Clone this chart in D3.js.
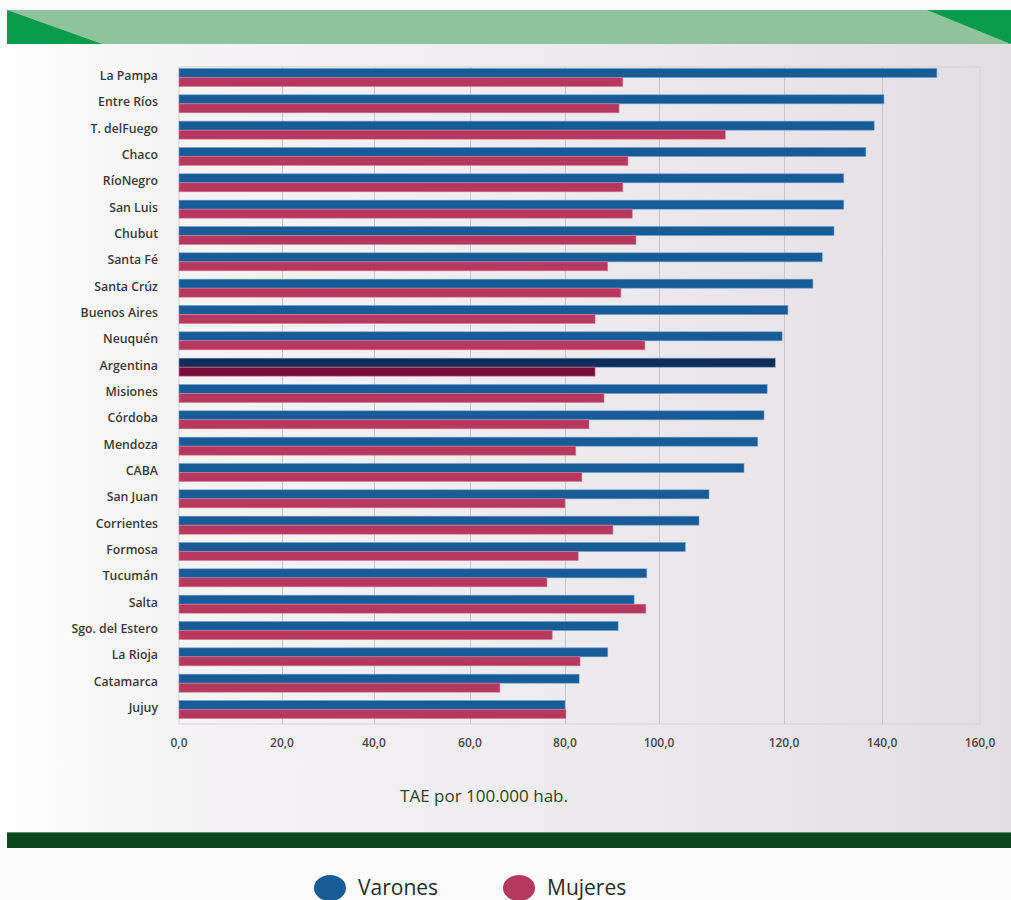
<!DOCTYPE html>
<html>
<head>
<meta charset="utf-8">
<script src="https://cdn.jsdelivr.net/npm/d3@7"></script>
<style>
	html, body { margin: 0; padding: 0; background: #fbfbfb; }
	svg { display: block; }
	.label { font-family: "Open Sans", sans-serif; font-size: 12.3px; font-weight: 600; fill: #3a3a3a; }
	.tick-label { font-family: "Open Sans", sans-serif; font-size: 12px; font-weight: 600; fill: #4a4a4a; }
	.axis-title { font-family: "Open Sans", sans-serif; font-size: 17px; fill: #1f4a29; }
	.legend { font-family: "Open Sans", sans-serif; font-size: 21px; fill: #2a2a2a; }
</style>
</head>
<body>
<script>

// Tasa ajustada por edad (TAE) por 100.000 hab.
const provinces = [
	"La Pampa", "Entre Ríos", "T. delFuego", "Chaco", "RíoNegro", "San Luis", "Chubut",
	"Santa Fé", "Santa Crúz", "Buenos Aires", "Neuquén", "Argentina", "Misiones", "Córdoba",
	"Mendoza", "CABA", "San Juan", "Corrientes", "Formosa", "Tucumán", "Salta",
	"Sgo. del Estero", "La Rioja", "Catamarca", "Jujuy"
];

const varones = [
	151.2, 140.4, 138.4, 136.7, 132.2, 132.2, 130.2,
	127.8, 125.9, 120.8, 119.7, 118.6, 117.3, 116.8,
	115.8, 113.6, 108.0, 106.4, 104.2, 97.4, 94.7,
	91.3, 89.1, 83.0, 80.0
];

const mujeres = [
	92.3, 91.5, 110.6, 93.4, 92.3, 94.3, 95.1,
	89.1, 91.9, 86.4, 97.0, 86.4, 88.3, 85.1,
	82.3, 83.6, 80.0, 90.2, 82.8, 76.2, 97.2,
	77.3, 83.2, 66.3, 80.2
];

const tickValues = [0, 20, 40, 60, 80, 100, 120, 140, 160];
const series = ["Varones", "Mujeres"];
const highlight = "Argentina";

// --------------------------------------------------------------------

const width = 1011, height = 900;
const plot = {left: 179, right: 980, top: 67, bottom: 724};

// the original axis is not evenly spaced, the ticks sit at these offsets
const tickOffsets = [0, 103, 195, 291, 386, 480, 605, 703, 801];

const colors = {Varones: "#175b97", Mujeres: "#b7385f"};
const darkColors = {Varones: "#0f2c57", Mujeres: "#7b0d3d"};

const fmt = d3.formatLocale({decimal: ",", thousands: ".", grouping: [3], currency: ["", ""]}).format(".1f");

const svg = d3.select("body").append("svg")
	.attr("width", width)
	.attr("height", height);

const defs = svg.append("defs");
const grad = defs.append("linearGradient")
	.attr("id", "bg")
	.attr("x1", "0%").attr("x2", "100%")
	.attr("y1", "0%").attr("y2", "0%");
grad.append("stop").attr("offset", "0%").attr("stop-color", "#ffffff");
grad.append("stop").attr("offset", "12%").attr("stop-color", "#f7f6f7");
grad.append("stop").attr("offset", "55%").attr("stop-color", "#eeebee");
grad.append("stop").attr("offset", "100%").attr("stop-color", "#e3dee2");

// background panel
svg.append("rect")
	.attr("x", 0).attr("y", 44)
	.attr("width", width).attr("height", 788)
	.attr("fill", "url(#bg)");

// top banner
const bannerTop = 10, bannerBottom = 44;
svg.append("rect")
	.attr("x", 7).attr("y", bannerTop)
	.attr("width", width - 7).attr("height", bannerBottom - bannerTop)
	.attr("fill", "#8fc39b");
svg.append("path")
	.attr("d", `M7,${bannerTop} L7,${bannerBottom} L102,${bannerBottom} Z`)
	.attr("fill", "#0b9b4c");
svg.append("path")
	.attr("d", `M927,${bannerTop} L${width},${bannerTop} L${width},${bannerBottom} Z`)
	.attr("fill", "#0b9b4c");

// bottom band
svg.append("rect")
	.attr("x", 7).attr("y", 832)
	.attr("width", width - 7).attr("height", 16)
	.attr("fill", "#0c4621");
svg.append("line")
	.attr("x1", 7).attr("x2", width)
	.attr("y1", 832.5).attr("y2", 832.5)
	.attr("stroke", "#5c8e64");

// scales
const x = d3.scaleLinear()
	.domain(tickValues)
	.range(tickOffsets.map(o => plot.left + o));

const y = d3.scaleBand()
	.domain(provinces)
	.range([64, 723])
	.paddingInner(0.316)
	.paddingOuter(0.17);

const sub = d3.scaleBand()
	.domain(series)
	.range([0, y.bandwidth()]);

// plot frame
svg.append("rect")
	.attr("x", plot.left).attr("y", plot.top)
	.attr("width", plot.right - plot.left).attr("height", plot.bottom - plot.top)
	.attr("fill", "none")
	.attr("stroke", "#d6d2d7");

// gridlines
svg.append("g")
	.selectAll("line")
	.data(tickValues.slice(1, -1))
	.join("line")
	.attr("x1", d => Math.round(x(d)) + 0.5)
	.attr("x2", d => Math.round(x(d)) + 0.5)
	.attr("y1", plot.top)
	.attr("y2", plot.bottom)
	.attr("stroke", "#c9c5cb");

// bars
const rows = provinces.map((p, i) => ({
	name: p,
	values: [
		{key: "Varones", value: varones[i]},
		{key: "Mujeres", value: mujeres[i]}
	]
}));

const rowG = svg.append("g")
	.selectAll("g")
	.data(rows)
	.join("g")
	.attr("transform", d => `translate(0,${y(d.name)})`);

rowG.selectAll("rect")
	.data(d => d.values.map(v => ({...v, row: d.name})))
	.join("rect")
	.attr("x", x(0))
	.attr("y", d => sub(d.key))
	.attr("width", d => x(d.value) - x(0))
	.attr("height", sub.bandwidth())
	.attr("fill", d => d.row === highlight ? darkColors[d.key] : colors[d.key])
	.attr("stroke", d => d.key === "Varones" ? "#6f9fd0" : "#d77c98")
	.attr("stroke-width", 0.6);

// category labels
svg.append("g")
	.selectAll("text")
	.data(provinces)
	.join("text")
	.attr("class", "label")
	.attr("x", 158)
	.attr("y", d => y(d) + y.bandwidth() / 2)
	.attr("dy", "0.2em")
	.attr("text-anchor", "end")
	.text(d => d);

// x tick labels
svg.append("g")
	.selectAll("text")
	.data(tickValues)
	.join("text")
	.attr("class", "tick-label")
	.attr("x", d => x(d))
	.attr("y", 747)
	.attr("text-anchor", "middle")
	.text(d => fmt(d));

svg.append("text")
	.attr("class", "axis-title")
	.attr("x", 484)
	.attr("y", 802)
	.attr("text-anchor", "middle")
	.text("TAE por 100.000 hab.");

// legend
const legendX = {Varones: 330, Mujeres: 519};
const legend = svg.append("g")
	.selectAll("g")
	.data(series)
	.join("g")
	.attr("transform", d => `translate(${legendX[d]},888)`);

legend.append("ellipse")
	.attr("rx", 16)
	.attr("ry", 13)
	.attr("fill", d => colors[d]);

legend.append("text")
	.attr("class", "legend")
	.attr("x", 28)
	.attr("y", 7)
	.text(d => d);

</script>
</body>
</html>
